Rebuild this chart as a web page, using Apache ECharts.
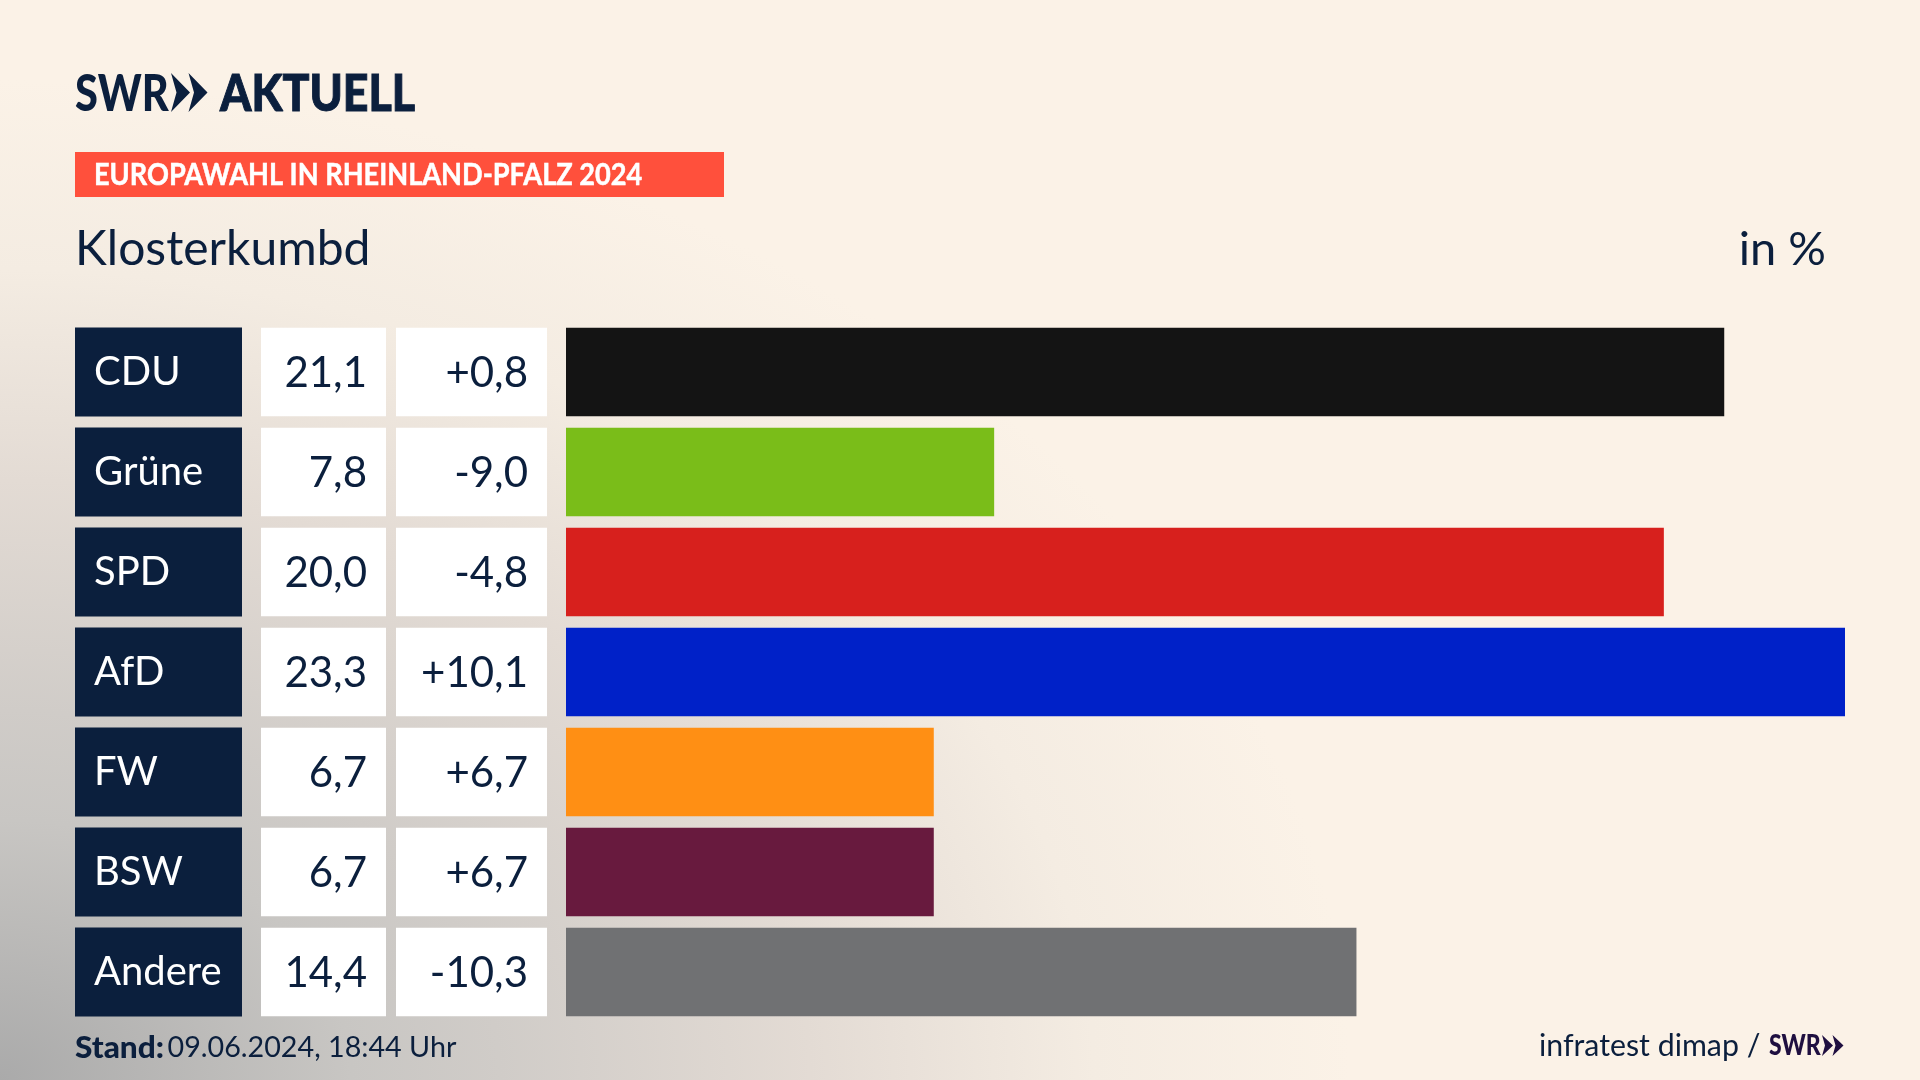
<!DOCTYPE html>
<html lang="de">
<head>
<meta charset="utf-8">
<title>Europawahl in Rheinland-Pfalz 2024 – Klosterkumbd</title>
<style>
html,body{margin:0;padding:0;width:1920px;height:1080px;overflow:hidden;background:#FBF2E7}
body{background:radial-gradient(ellipse 1350px 1000px at 0px 1080px,
 #AAAAAA 0%, #C8C6C3 26%, #D0CCC8 37%, #E3DBD4 60%, #F4ECE2 81%, #FBF2E7 100%)}
#c{width:1920px;height:1080px}
</style>
</head>
<body>
<div id="c"></div>
<script src="https://cdn.jsdelivr.net/npm/echarts@6/dist/echarts.min.js"></script>
<script>
const categories = ['CDU','Grüne','SPD','AfD','FW','BSW','Andere'];
const shares = [21.1,7.8,20.0,23.3,6.7,6.7,14.4];
const changes = [0.8,-9.0,-4.8,10.1,6.7,6.7,-10.3];
const barColors = ['#141414','#7ABD19','#D7201D','#0021C8','#FF8F14','#681A3E','#707173'];
const headline = 'EUROPAWAHL IN RHEINLAND-PFALZ 2024';
const place = 'Klosterkumbd';
const unit = 'in %';
const standLabel = 'Stand:';
const standValue = '09.06.2024, 18:44 Uhr';
const source = 'infratest dimap /';

const NAVY = '#0B1F3D';
const FONT = 'Lato';
const fmt = v => v.toFixed(1).replace('.', ',');
const fmtChange = v => (v > 0 ? '+' : '') + fmt(v);

const chart = echarts.init(document.getElementById('c'), null, {width:1920,height:1080,renderer:'canvas'});

function chevrons(x, top, bottom, w, notch, gap, fill){
  const mid = (top + bottom) / 2;
  return [0,1].map(i => {
    const x0 = x + i * gap;
    return {type:'polygon', silent:true,
      shape:{points:[[x0,top],[x0+w,mid],[x0,bottom],[x0+notch,mid]]},
      style:{fill}};
  });
}
function txt(x, y, text, size, weight, fill, extra){
  const {align, stroke, lineWidth, ...rest} = extra || {};
  return Object.assign({type:'text', x, y, silent:true,
    style:{text, font:`${weight} ${size}px ${FONT}`, fill, textVerticalAlign:'middle',
      textAlign:align||'left', stroke:stroke||null, lineWidth:lineWidth||0}}, rest);
}

chart.setOption({
  animation:false,
  backgroundColor:'transparent',
  grid:{left:566, top:322, width:1279, height:700, containLabel:false},
  xAxis:{type:'value', min:0, max:23.3, show:false},
  yAxis:{type:'category', inverse:true, data:categories,
    axisLine:{show:false}, axisTick:{show:false},
    axisLabel:{interval:0, margin:491, align:'left', color:'#fff', fontFamily:FONT, fontSize:40,
      width:148, height:89, lineHeight:95, padding:[0,0,0,19], backgroundColor:NAVY, overflow:'none'}},
  series:[
    {type:'bar', name:'Ergebnis', barWidth:88.5, silent:true,
     data:shares.map((v,i)=>({value:v,itemStyle:{color:barColors[i]}}))},
    {type:'custom', name:'Tabelle', silent:true, encode:{x:0,y:1},
     data:shares.map((v,i)=>[0,i]),
     renderItem(params, api){
       const i = params.dataIndex;
       const yc = api.coord([0,i])[1];
       const h = 88.5, top = yc - h/2;
       const cell = (x,w,t,right)=>[
         {type:'rect', shape:{x,y:top,width:w,height:h}, style:{fill:'#fff'}},
         {type:'text', style:{x:right,y:yc+1.5,text:t,textAlign:'right',textVerticalAlign:'middle',
           font:`400 42px ${FONT}`,fill:NAVY}}
       ];
       return {type:'group', children:[
         ...cell(261,125,fmt(shares[i]),367),
         ...cell(396,151,fmtChange(changes[i]),528)
       ]};
     }}
  ],
  graphic:{elements:[
    txt(75,94,'SWR',52,900,NAVY,{scaleX:.8}),
    ...chevrons(171,73,112,19,5.5,17.5,NAVY),
    txt(220,94,'AKTUELL',52,900,NAVY,{scaleX:.86,stroke:NAVY,lineWidth:1}),
    {type:'rect', silent:true, shape:{x:75,y:152,width:649,height:45}, style:{fill:'#FF503C'}},
    txt(94,175.5,headline,30,700,'#fff',{scaleX:.905,stroke:'#fff',lineWidth:.5}),
    txt(75,250,place,48,400,NAVY),
    txt(1826,250,unit,47,400,NAVY,{align:'right'}),
    txt(75,1047.5,standLabel,31,900,NAVY,{scaleX:1.02}),
    txt(167.5,1047.5,standValue,28.7,400,NAVY),
    txt(1539,1046,source,30.3,400,NAVY),
    txt(1769,1046,'SWR',28,900,'#1F0F40',{scaleX:.82}),
    ...chevrons(1822,1035,1056,11,3,10.5,'#1F0F40')
  ]}
});
</script>
</body>
</html>
